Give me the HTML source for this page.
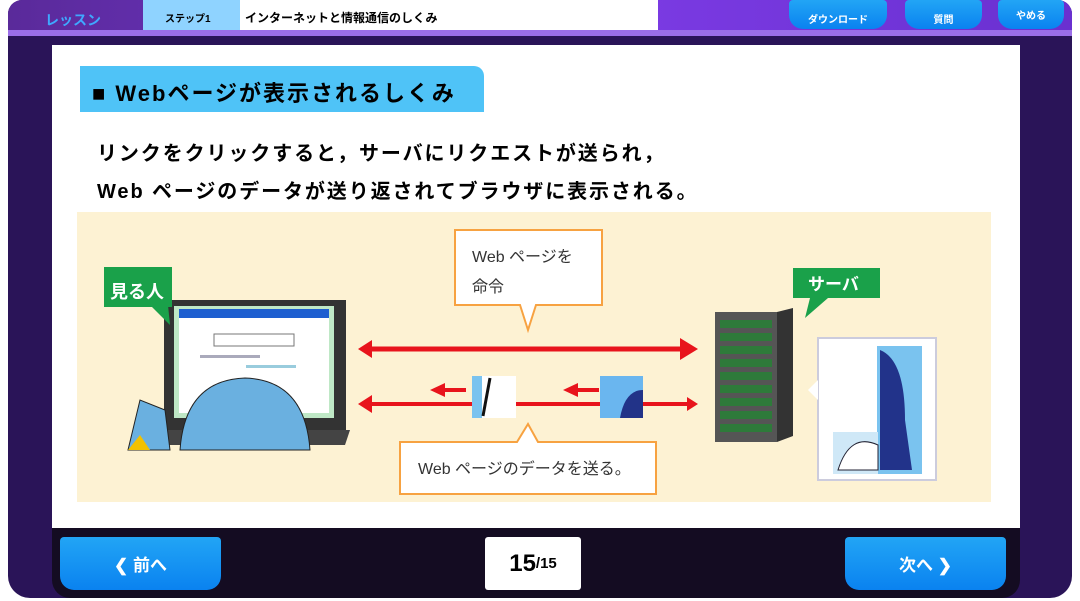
<!DOCTYPE html>
<html><head><meta charset="utf-8"><style>
*{margin:0;padding:0;box-sizing:border-box}
body{width:1080px;height:601px;background:#fff;position:relative;overflow:hidden;font-family:"Liberation Sans","Noto Sans CJK JP",sans-serif}
.a{position:absolute}
.btn{background:linear-gradient(#22a5f5,#0a82f0);color:#fff;font-weight:bold;border-radius:4px 4px 14px 14px;display:flex;align-items:center;justify-content:center;text-align:center}
</style></head><body>
<div class="a" style="left:8px;top:0;width:1064px;height:598px;background:#2a1458;border-radius:14px 14px 22px 22px"></div>
<div class="a" style="left:8px;top:0;width:1064px;height:30px;background:linear-gradient(90deg,#5a2a9a,#7a3ae2 60%,#6a30d0);border-radius:14px 14px 0 0"></div>
<div class="a" style="left:8px;top:30px;width:1064px;height:6px;background:#9b6ee8"></div>
<div class="a" style="left:45px;top:10px;color:#3fa8ff;font-weight:bold;font-size:14px">レッスン</div>
<div class="a" style="left:143px;top:0;width:97px;height:30px;background:#8fd3ff;font-size:10px;font-weight:bold;padding:10px 0 0 22px">ステップ1</div>
<div class="a" style="left:240px;top:0;width:418px;height:30px;background:#fff;font-size:12px;font-weight:bold;padding:9px 0 0 5px">インターネットと情報通信のしくみ</div>
<div class="a btn" style="left:789px;top:0;width:98px;height:29px;font-size:10px;padding-top:8px">ダウンロード</div>
<div class="a btn" style="left:905px;top:0;width:77px;height:29px;font-size:10px;padding-top:8px">質問</div>
<div class="a btn" style="left:998px;top:0;width:66px;height:29px;font-size:10px">やめる</div>
<div class="a" style="left:52px;top:45px;width:968px;height:483px;background:#fff"></div>
<div class="a" style="left:52px;top:528px;width:968px;height:70px;background:#140c22;border-radius:0 0 18px 18px"></div>
<div class="a" style="left:80px;top:66px;width:404px;height:46px;background:#4fc3f7;border-radius:0 10px 0 0;font-size:22px;font-weight:bold;padding:10px 0 0 12px;letter-spacing:2px">■ Webページが表示されるしくみ</div>
<div class="a" style="left:97px;top:135px;font-size:20px;font-weight:bold;line-height:38px;letter-spacing:1.9px">リンクをクリックすると，サーバにリクエストが送られ，<br>Web ページのデータが送り返されてブラウザに表示される。</div>
<div class="a" style="left:77px;top:212px;width:914px;height:290px;background:#fdf2d3"></div>
<svg class="a" style="left:0;top:0" width="1080" height="601">
<rect x="164" y="300" width="182" height="130" fill="#333"/>
<rect x="174" y="306" width="160" height="112" fill="#bfe8c6"/>
<rect x="179" y="309" width="150" height="104" fill="#fff"/>
<rect x="179" y="309" width="150" height="9" fill="#1e5fd0"/>
<rect x="214" y="334" width="80" height="12" fill="#fff" stroke="#777"/>
<rect x="200" y="355" width="60" height="3" fill="#aab"/><rect x="246" y="365" width="50" height="3" fill="#9cd"/>
<path d="M150 430 L350 430 L345 445 L150 445Z" fill="#444"/>
<path d="M180 450 Q185 380 245 378 Q305 380 310 450Z" fill="#6ab0e0" stroke="#222"/>
<path d="M128 450 L140 400 L165 410 L170 450Z" fill="#6ab0e0" stroke="#222"/>
<path d="M128 450 L140 435 L150 450Z" fill="#f2c100"/>
<rect x="104" y="267" width="68" height="40" fill="#1aa14a"/>
<path d="M150 305 L170 325 L168 305Z" fill="#1aa14a"/>
<text x="110" y="298" fill="#fff" font-size="18" font-weight="bold" font-family="Liberation Sans,Noto Sans CJK JP,sans-serif">見る人</text>
<line x1="368" y1="349" x2="680" y2="349" stroke="#e8141c" stroke-width="5"/>
<path d="M358 349 L372 340 L372 358Z M698 349 L680 338 L680 360Z" fill="#e8141c"/>
<line x1="368" y1="404" x2="688" y2="404" stroke="#e8141c" stroke-width="4"/>
<path d="M358 404 L372 395 L372 413Z M698 404 L687 397 L687 411Z" fill="#e8141c"/>
<path d="M430 390 L445 383 L445 397Z M563 390 L578 383 L578 397Z" fill="#e8141c"/>
<rect x="444" y="388" width="22" height="4" fill="#e8141c"/><rect x="577" y="388" width="22" height="4" fill="#e8141c"/>
<rect x="472" y="376" width="44" height="42" fill="#fff"/><rect x="472" y="376" width="10" height="42" fill="#7ac3ef"/>
<line x1="490" y1="378" x2="483" y2="416" stroke="#111" stroke-width="3"/>
<rect x="600" y="376" width="43" height="42" fill="#6ab6ef"/>
<path d="M620 418 Q625 390 643 390 L643 418Z" fill="#223388"/>
<path d="M455 230 L602 230 L602 305 L536 305 L528 330 L520 305 L455 305Z" fill="#fff" stroke="#f7a241" stroke-width="2"/>
<text x="472" y="262" font-size="16" fill="#333" font-family="Liberation Sans,Noto Sans CJK JP,sans-serif">Web ページを</text>
<text x="472" y="292" font-size="16" fill="#333" font-family="Liberation Sans,Noto Sans CJK JP,sans-serif">命令</text>
<path d="M400 442 L517 442 L528 424 L538 442 L656 442 L656 494 L400 494Z" fill="#fff" stroke="#f7a241" stroke-width="2"/>
<text x="418" y="474" font-size="16" fill="#333" font-family="Liberation Sans,Noto Sans CJK JP,sans-serif">Web ページのデータを送る。</text>
<rect x="715" y="312" width="62" height="130" fill="#555"/>
<path d="M777 312 L793 308 L793 436 L777 442Z" fill="#333"/>
<g fill="#2e7a3a">
<rect x="720" y="320" width="52" height="8"/><rect x="720" y="333" width="52" height="8"/><rect x="720" y="346" width="52" height="8"/><rect x="720" y="359" width="52" height="8"/><rect x="720" y="372" width="52" height="8"/><rect x="720" y="385" width="52" height="8"/><rect x="720" y="398" width="52" height="8"/><rect x="720" y="411" width="52" height="8"/><rect x="720" y="424" width="52" height="8"/>
</g>
<rect x="793" y="268" width="87" height="30" fill="#1aa14a"/>
<path d="M810 298 L828 298 L805 318Z" fill="#1aa14a"/>
<text x="808" y="290" fill="#fff" font-size="17" font-weight="bold" font-family="Liberation Sans,Noto Sans CJK JP,sans-serif">サーバ</text>
<rect x="818" y="338" width="118" height="142" fill="#fff" stroke="#ccd" stroke-width="2"/>
<path d="M818 380 L808 390 L818 400Z" fill="#fff"/>
<rect x="877" y="346" width="45" height="128" fill="#7ac3ef"/>
<path d="M880 350 Q905 360 905 420 L912 470 L880 470Z" fill="#22338a"/>
<rect x="833" y="432" width="45" height="42" fill="#cfe8f7"/>
<path d="M838 470 Q850 432 878 445 L878 470Z" fill="#fff" stroke="#223"/>
</svg>
<div class="a btn" style="left:60px;top:537px;width:161px;height:53px;font-size:17px">❮ 前へ</div>
<div class="a" style="left:485px;top:537px;width:96px;height:53px;background:#fff;border-radius:3px;font-weight:bold;font-size:24px;display:flex;align-items:center;justify-content:center">15<span style="font-size:15px">/15</span></div>
<div class="a btn" style="left:845px;top:537px;width:161px;height:53px;font-size:17px">次へ ❯</div>
</body></html>
